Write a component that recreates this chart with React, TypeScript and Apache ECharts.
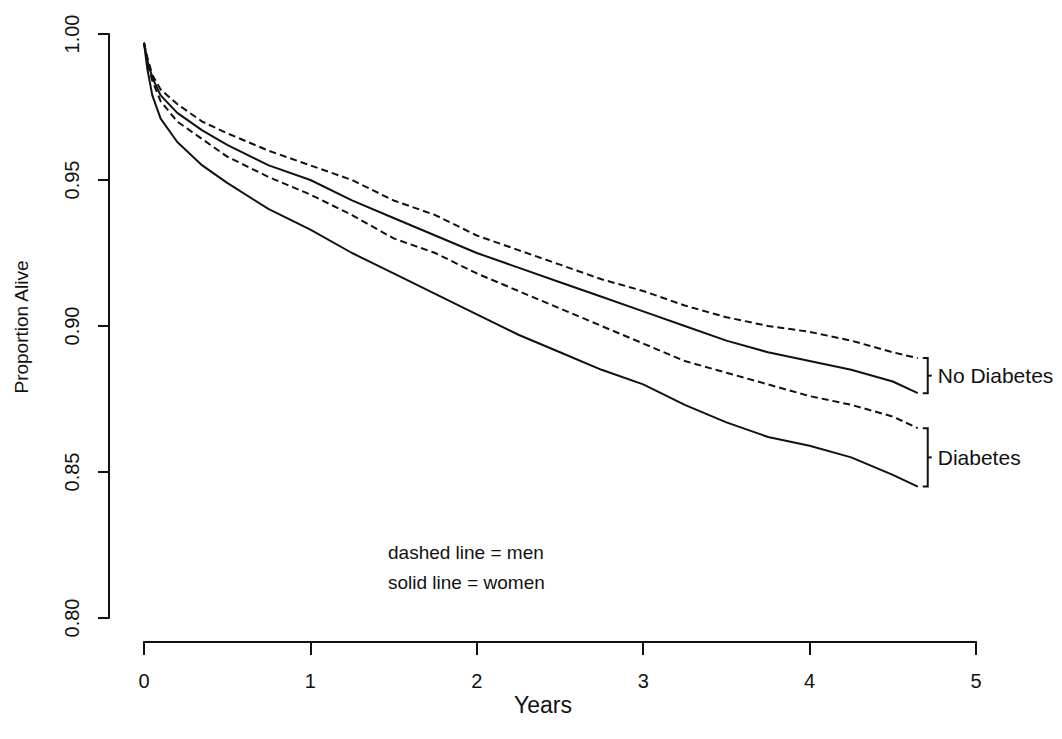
import React, { useEffect, useRef } from "react";
import * as echarts from "echarts";

const years = [0, 0.02, 0.05, 0.1, 0.2, 0.35, 0.5, 0.75, 1.0, 1.25, 1.5, 1.75, 2.0, 2.25, 2.5, 2.75, 3.0, 3.25, 3.5, 3.75, 4.0, 4.25, 4.5, 4.65];

const menNoDiabetes = [0.997, 0.992, 0.986, 0.981, 0.976, 0.970, 0.966, 0.960, 0.955, 0.950, 0.943, 0.938, 0.931, 0.926, 0.921, 0.916, 0.912, 0.907, 0.903, 0.900, 0.898, 0.895, 0.891, 0.889];
const womenNoDiabetes = [0.997, 0.991, 0.985, 0.979, 0.973, 0.967, 0.962, 0.955, 0.950, 0.943, 0.937, 0.931, 0.925, 0.920, 0.915, 0.910, 0.905, 0.900, 0.895, 0.891, 0.888, 0.885, 0.881, 0.877];
const menDiabetes = [0.997, 0.990, 0.984, 0.977, 0.970, 0.964, 0.958, 0.951, 0.945, 0.938, 0.930, 0.925, 0.918, 0.912, 0.906, 0.900, 0.894, 0.888, 0.884, 0.880, 0.876, 0.873, 0.869, 0.865];
const womenDiabetes = [0.997, 0.988, 0.979, 0.971, 0.963, 0.955, 0.949, 0.940, 0.933, 0.925, 0.918, 0.911, 0.904, 0.897, 0.891, 0.885, 0.880, 0.873, 0.867, 0.862, 0.859, 0.855, 0.849, 0.845];

const xTicks = [0, 1, 2, 3, 4, 5];
const yTicks = [0.8, 0.85, 0.9, 0.95, 1.0];

const FONT = "'Liberation Sans', Arial, Helvetica, sans-serif";
const INK = "#111";

function pairs(ys: number[]) {
  return years.map((x, i) => [x, ys[i]]);
}

export default function App() {
  const ref = useRef<HTMLDivElement>(null);
  useEffect(() => {
    if (!ref.current) return;
    const chart = echarts.init(ref.current, undefined, { renderer: "svg" });
    const lineBase = { type: "line", showSymbol: false, symbol: "none", smooth: false, silent: true };
    chart.setOption({
      animation: false,
      backgroundColor: "#fff",
      grid: { left: 144, right: 86, top: 34, bottom: 121, containLabel: false, outerBoundsMode: "none" },
      xAxis: {
        type: "value",
        min: xTicks[0],
        max: xTicks[xTicks.length - 1],
        interval: 1,
        offset: 24,
        axisLine: { show: true, onZero: false, lineStyle: { color: INK, width: 2 } },
        axisTick: { show: true, length: 13, lineStyle: { color: INK, width: 2 } },
        axisLabel: { color: INK, fontSize: 20, fontFamily: FONT, margin: 29 },
        splitLine: { show: false },
      },
      yAxis: {
        type: "value",
        min: yTicks[0],
        max: yTicks[yTicks.length - 1],
        interval: 0.05,
        offset: 35,
        axisLine: { show: true, onZero: false, lineStyle: { color: INK, width: 2 } },
        axisTick: { show: true, length: 11, lineStyle: { color: INK, width: 2 } },
        axisLabel: {
          color: INK,
          fontSize: 20,
          fontFamily: FONT,
          rotate: 90,
          margin: 27,
          formatter: (v: number) => v.toFixed(2),
        },
        splitLine: { show: false },
      },
      series: [
        { ...lineBase, name: "Men, no diabetes", data: pairs(menNoDiabetes), lineStyle: { color: INK, width: 2, type: [7, 4] } },
        { ...lineBase, name: "Women, no diabetes", data: pairs(womenNoDiabetes), lineStyle: { color: INK, width: 2, type: "solid" } },
        { ...lineBase, name: "Men, diabetes", data: pairs(menDiabetes), lineStyle: { color: INK, width: 2, type: [7, 4] } },
        { ...lineBase, name: "Women, diabetes", data: pairs(womenDiabetes), lineStyle: { color: INK, width: 2, type: "solid" } },
      ],
    });

    const last = years.length - 1;
    const bx = chart.convertToPixel({ gridIndex: 0 }, [4.71, 0.9])[0];
    const py = (v: number) => chart.convertToPixel({ gridIndex: 0 }, [0, v])[1];
    const bracket = (top: number, bottom: number, label: string) => {
      const mid = (top + bottom) / 2;
      return [
        { type: "polyline", shape: { points: [[bx - 5, top], [bx, top], [bx, bottom], [bx - 5, bottom]] }, style: { stroke: INK, lineWidth: 2, fill: null } },
        { type: "line", shape: { x1: bx, y1: mid, x2: bx + 4, y2: mid }, style: { stroke: INK, lineWidth: 2 } },
        { type: "text", x: bx + 10, y: mid, style: { text: label, fill: INK, font: `21px ${FONT}`, align: "left", verticalAlign: "middle" } },
      ];
    };
    const nd = bracket(py(menNoDiabetes[last]), py(womenNoDiabetes[last]), "No Diabetes");
    const d = bracket(py(menDiabetes[last]), py(womenDiabetes[last]), "Diabetes");

    chart.setOption({
      graphic: [
        ...nd,
        ...d,
        { type: "text", x: 388, y: 552, style: { text: "dashed line = men", fill: INK, font: `19px ${FONT}`, align: "left", verticalAlign: "middle" } },
        { type: "text", x: 388, y: 582, style: { text: "solid line = women", fill: INK, font: `19px ${FONT}`, align: "left", verticalAlign: "middle" } },
        { type: "text", x: 543, y: 705, style: { text: "Years", fill: INK, font: `23px ${FONT}`, align: "center", verticalAlign: "middle" } },
        { type: "text", x: 21, y: 327, rotation: Math.PI / 2, style: { text: "Proportion Alive", fill: INK, font: `19px ${FONT}`, align: "center", verticalAlign: "middle" } },
      ],
    });
    return () => chart.dispose();
  }, []);
  return <div ref={ref} style={{ position: "absolute", left: 0, top: 0, width: 1062, height: 739, background: "#fff" }} />;
}
